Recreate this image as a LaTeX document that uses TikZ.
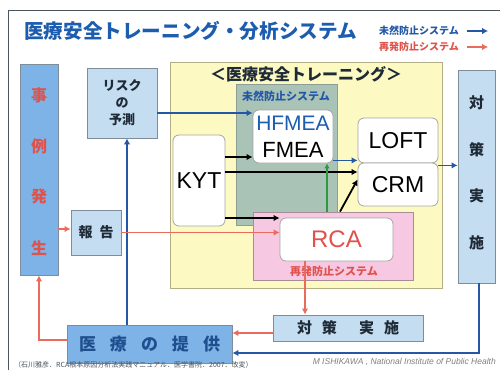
\documentclass[tikz,border=0pt]{standalone}
\usepackage{fontspec}
\setmainfont{Liberation Sans}
\newfontfamily\jp{Noto Sans CJK JP}
\usetikzlibrary{arrows.meta}
\definecolor{lblue}{HTML}{C4DDF0}
\definecolor{mblue}{HTML}{7DB3E6}
\definecolor{boxedge}{HTML}{7F8C99}
\definecolor{ttlblue}{HTML}{1C5DB0}
\definecolor{arrblue}{HTML}{2458A6}
\definecolor{arrred}{HTML}{EA6B5E}
\definecolor{txtred}{HTML}{E0524C}
\definecolor{ylw}{HTML}{FCFAC2}
\definecolor{ylwedge}{HTML}{B3AE86}
\definecolor{grn}{HTML}{A9C3B6}
\definecolor{grnedge}{HTML}{8E9E95}
\definecolor{pnk}{HTML}{F6C8E2}
\definecolor{pnkedge}{HTML}{A88C98}
\definecolor{darktxt}{HTML}{1E2A36}
\definecolor{navytxt}{HTML}{1F4F8F}
\definecolor{grntip}{HTML}{2E9A3E}
\tikzset{
  lbox/.style={draw=boxedge, fill=lblue, line width=0.8pt, inner sep=0pt},
  mbox/.style={draw=boxedge, fill=mblue, line width=0.8pt, inner sep=0pt},
  wbox/.style={draw=gray!70, fill=white, rounded corners=6pt, line width=0.8pt, inner sep=0pt},
  barrow/.style={draw=arrblue, line width=1.8pt, -{Latex[length=6pt,width=6.5pt]}},
  rarrow/.style={draw=arrred, line width=1.8pt, -{Latex[length=6pt,width=6.5pt]}},
  karrow/.style={draw=black, line width=1.8pt, -{Latex[length=6pt,width=6.5pt]}},
  garrow/.style={draw=grntip, line width=1.8pt, -{Latex[length=5pt,width=5.5pt]}},
  lat/.style={font=\fontsize{23}{23}\selectfont},
}
\begin{document}
\begin{tikzpicture}[x=1pt,y=-1pt]
\useasboundingbox (0,0) rectangle (500,370);
\fill[white] (0,0) rectangle (500,370);
% frame
\draw[darktxt!80, line width=1pt] (500,10) -- (8,10) -- (8,370);
% title
\node[anchor=west, text=ttlblue, font=\jp\bfseries\fontsize{19.6}{19.6}\selectfont, inner sep=0] (title) at (24,31) {医療安全トレーニング・分析システム};
\node[anchor=west, text=arrblue, font=\jp\bfseries\fontsize{10}{10}\selectfont, inner sep=0] (leg1) at (379,31) {未然防止システム};
\node[anchor=west, text=txtred, font=\jp\bfseries\fontsize{10}{10}\selectfont, inner sep=0] (leg2) at (379,47) {再発防止システム};
\draw[barrow, line width=2.4pt] ([xshift=8pt]leg1.east) -- ++(21,0);
\draw[rarrow, line width=2.4pt] ([xshift=8pt]leg2.east) -- ++(21,0);

% big containers
\node[draw=ylwedge, fill=ylw, line width=1pt, minimum width=272pt, minimum height=226pt, inner sep=0] (yellow) at (306,175) {};
\node[text=darktxt, font=\jp\bfseries\fontsize{16}{16}\selectfont] (ytitle) at (306,74) {＜医療安全トレーニング＞};
\node[draw=grnedge, fill=grn, line width=0.8pt, minimum width=101pt, minimum height=141pt, inner sep=0] (gray) at (286.5,154.5) {};
\node[text=arrblue, font=\jp\bfseries\fontsize{11}{11}\selectfont] (glabel) at (286,96) {未然防止システム};
\node[draw=pnkedge, fill=pnk, line width=0.8pt, minimum width=160pt, minimum height=68pt, inner sep=0] (pink) at (333,246) {};
\node[text=txtred, font=\jp\bfseries\fontsize{11}{11}\selectfont] (plabel) at (334,271) {再発防止システム};

% left boxes
\node[mbox, minimum width=38pt, minimum height=211pt] (jirei) at (39,169.5) {};
\foreach \c/\y in {事/95,例/146,発/196,生/248}
  \node[text=txtred, font=\jp\bfseries\fontsize{16}{16}\selectfont] at (39,\y) {\c};
\node[lbox, minimum width=70pt, minimum height=70pt, align=center, text=darktxt, font=\jp\bfseries\fontsize{13}{17}\selectfont] (risk) at (122,103) {リスク\\の\\予測};
\node[lbox, minimum width=50pt, minimum height=45pt, text=darktxt, font=\jp\bfseries\fontsize{14}{14}\selectfont] (hokoku) at (96,232.5) {報\hspace{7pt}告};

% inner white boxes
\node[wbox, minimum width=80pt, minimum height=53pt] (fmea) at (293,136.5) {};
\node[text=ttlblue, font=\fontsize{21}{21}\selectfont] (hf) at (293,123) {HFMEA};
\node[text=black, font=\fontsize{22}{22}\selectfont] (fm) at (293,150) {FMEA};
\node[wbox, minimum width=52pt, minimum height=91pt, lat] (kyt) at (199,180.5) {KYT};
\node[wbox, minimum width=80pt, minimum height=45pt, lat] (loft) at (398,140.5) {LOFT};
\node[wbox, minimum width=80pt, minimum height=43pt, lat] (crm) at (398,184.5) {CRM};
\node[wbox, minimum width=113pt, minimum height=43pt, text=txtred, font=\fontsize{24}{24}\selectfont] (rca) at (336.5,239.5) {RCA};

% right column
\node[lbox, minimum width=37pt, minimum height=213pt] (tr) at (476.5,176.5) {};
\foreach \c/\y in {対/103,策/150,実/196,施/243}
  \node[text=darktxt, font=\jp\bfseries\fontsize{15}{15}\selectfont] at (476.5,\y) {\c};

% bottom boxes
\node[lbox, minimum width=150pt, minimum height=26pt, text=darktxt, font=\jp\bfseries\fontsize{15}{15}\selectfont] (tb) at (348,328) {対\hspace{10pt}策\hspace{22pt}実\hspace{10pt}施};
\node[mbox, minimum width=165pt, minimum height=38pt, text=navytxt, font=\jp\bfseries\fontsize{17}{17}\selectfont] (iryo) at (149.5,344) {医\hspace{14pt}療\hspace{14pt}の\hspace{14pt}提\hspace{14pt}供};

% connectors
\draw[barrow] ([xshift=5pt]risk.south |- iryo.north) -- ([xshift=5pt]risk.south);
\draw[barrow] ([yshift=-10pt]risk.east) -- ([yshift=-10pt]risk.east -| fmea.west);
\draw[rarrow] ([yshift=3.5pt]hokoku.west -| jirei.east) -- ([yshift=3.5pt]hokoku.west);
\draw[rarrow] (hokoku.east) -- (hokoku.east -| rca.west);
\draw[rarrow] ([yshift=4pt]iryo.west) -| (jirei.south);
\draw[rarrow] ([xshift=-31.5pt]rca.south) -- ([xshift=-31.5pt]rca.south |- tb.north);
\draw[rarrow] ([yshift=-5pt]tb.west) -- ([yshift=-5pt]tb.west -| iryo.east);
\draw[barrow] ([xshift=2.5pt]tr.south) |- ([yshift=-9pt]iryo.east);
\draw[barrow] ([yshift=-2pt]loft.south east) -- ([yshift=-2pt]loft.south east -| tr.west);
\draw[barrow] ([yshift=3pt]fmea.south east) -- ([yshift=3pt]fmea.south east -| loft.west);
\draw[karrow] ([yshift=23.5pt]kyt.east) -- ([yshift=23.5pt]kyt.east -| fmea.west);
\draw[karrow] ([yshift=8.5pt]kyt.east) -- ([yshift=8.5pt]kyt.east -| crm.west);
\draw[karrow] ([yshift=-37.5pt]kyt.east) -- ([yshift=-37.5pt]kyt.east -| rca.west);
\draw[karrow] ([xshift=7pt]pink.north) -- ([yshift=5pt]crm.west);
\draw[garrow] ([xshift=-6pt]pink.north) -- ([xshift=-6pt]pink.north |- fmea.south);

% footer
\node[anchor=west, text=darktxt!80, font=\jp\fontsize{7}{7}\selectfont, inner sep=0] (ref) at (14,365) {（石川雅彦．RCA根本原因分析法実践マニュアル．医学書院．2007．改変）};
\node[anchor=east, text=gray, font=\itshape\fontsize{8.5}{8.5}\selectfont, inner sep=0] (auth) at (496,362) {M ISHIKAWA , National Institute of Public Health};
\end{tikzpicture}
\end{document}
